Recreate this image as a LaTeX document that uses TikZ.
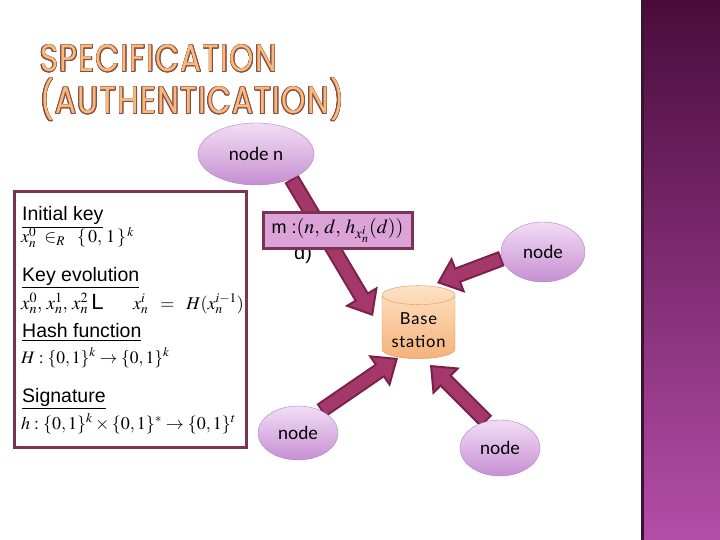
\documentclass[tikz,border=0pt]{standalone}
\usepackage{mathptmx}
\usepackage[no-math]{fontspec}
\setmainfont{Liberation Sans}
\newfontfamily\nodefont{Lato}
\newfontfamily\stationfont[LetterSpace=5]{Lato}
\newfontfamily\titlefont[LetterSpace=4]{Poppins}
\usepackage[copies]{contour}
\contourlength{0.8pt}
\usetikzlibrary{shapes.geometric,arrows.meta,backgrounds}

\definecolor{titlefill}{HTML}{F5BA80}
\definecolor{titleedge}{HTML}{8C4B3B}
\definecolor{peeredge}{HTML}{A987BC}
\definecolor{peertop}{HTML}{F3DDF6}
\definecolor{peerbot}{HTML}{C68FD2}
\definecolor{stationedge}{HTML}{D99A66}
\definecolor{stationtop}{HTML}{FEE2C4}
\definecolor{stationbot}{HTML}{F5B27A}
\definecolor{arrowfill}{HTML}{A4386A}
\definecolor{arrowedge}{HTML}{7A2049}
\definecolor{msgfill}{HTML}{DBA3D8}
\definecolor{boxedge}{HTML}{7B3454}
\definecolor{bartop}{HTML}{4A0C3C}
\definecolor{barbot}{HTML}{B44DA8}
\definecolor{baredge}{HTML}{3A1232}

\tikzset{
  peer/.style={ellipse, draw=peeredge, top color=peertop, bottom color=peerbot,
    font=\nodefont\fontsize{18}{20}\selectfont, inner sep=0pt},
  stationtext/.style={align=center, inner sep=0pt, font=\stationfont\fontsize{16.5}{23}\selectfont},
  heading/.style={anchor=base west, inner sep=0pt, font=\fontsize{19.5}{22}\selectfont},
  formula/.style={anchor=base west, inner sep=0pt, font=\fontsize{18}{20}\selectfont},
  blockout/.style={line width=16, draw=arrowedge,
    -{Triangle[width=38pt,length=23pt,fill=arrowfill,line width=2pt]}},
  blockin/.style={line width=12, draw=arrowfill, shorten <=2pt, shorten >=20pt},
}

\begin{document}
\begin{tikzpicture}[x=1pt,y=-1pt]
  \useasboundingbox (0,0) rectangle (720,540);
  % title
  \node[anchor=base west, inner sep=0pt, xscale=0.815,
    font=\titlefont\fontsize{38}{40}\selectfont] (title1) at (40,72)
    {\contour{titleedge}{\textcolor{titlefill}{SPECIFICATION}}};
  \node[anchor=base west, inner sep=0pt, xscale=0.815,
    font=\titlefont\fontsize{38}{40}\selectfont] (title2) at (40,114)
    {\contour{titleedge}{\textcolor{titlefill}{(AUTHENTICATION)}}};
  % side bar
  \shade[top color=bartop, bottom color=barbot] (643,0) rectangle (720,540);
  \fill[baredge] (641,0) rectangle (644,540);
  % key box
  \node[draw=boxedge, line width=3pt, fill=white, anchor=north west,
    minimum width=232, minimum height=256, inner sep=0pt] (specbox) at (13,190) {};
  \node[heading] (hinit) at (22,221) {\underline{Initial key}};
  \node[formula] (finit) at (21,243) {$x_n^0\;\in_R\;\;\{\,0,\,1\,\}^{\,k}$};
  \node[heading] (hevol) at (22,281) {\underline{Key evolution}};
  \node[formula, font=\fontsize{19}{21}\selectfont] (fevol) at (21,309)
    {$x_n^0,\,x_n^1,\,x_n^2$\,{\fontsize{22}{22}\selectfont L}\quad\;
    {\fontsize{18}{20}\selectfont$x_n^i \;\;=\;\; H(x_n^{i-1})$}};
  \node[heading] (hhash) at (22,337) {\underline{Hash function}};
  \node[formula, font=\fontsize{17.5}{19}\selectfont] (fhash) at (21,363) {$H:\{0,1\}^k \to \{0,1\}^k$};
  \node[heading] (hsig) at (22,402) {\underline{Signature}};
  \node[formula] (fsig) at (21,429)
    {$h:\{0,1\}^k \times \{0,1\}^* \to \{0,1\}^t$};
  % nodes
  \node[peer, minimum width=116, minimum height=62] (nn) at (256,154) {node n};
  \node[peer, minimum width=84, minimum height=60] (re) at (543,252) {node};
  \node[peer, minimum width=80, minimum height=54] (bl) at (298,433) {node};
  \node[peer, minimum width=80, minimum height=56] (br) at (500,448) {node};
  \node[cylinder, shape border rotate=90, aspect=0.35, draw=stationedge,
    top color=stationtop, bottom color=stationbot, minimum width=73, minimum height=73,
    stationtext] (bs) at (418.5,327) {\phantom{Base}\\\phantom{station}};
  \node[stationtext] (bslabel) at ([yshift=-3.5pt]bs.center) {Base\\station};
  % message
  \node[anchor=base west, inner sep=0pt, font=\fontsize{20}{22}\selectfont] (spill) at (294,259) {d)};
  \node[draw=boxedge, line width=3pt, fill=msgfill, minimum width=149, minimum height=35,
    inner sep=0pt] (msg) at (337.5,230.5)
    {{\fontsize{18}{20}\selectfont m :}{\fontsize{20}{22}\selectfont$(n,\,d,\,h_{x_n^i}(d))$}};
  % arrow tips
  \coordinate (tipa) at (373,316);
  \coordinate (tipb) at (437,283);
  \coordinate (tipc) at (398,358);
  \coordinate (tipd) at (430,365);
  \begin{scope}[on background layer]
    \fill[white] (0,0) rectangle (720,540);
    \foreach \src/\dst in {nn.-35/tipa, re.189/tipb, bl.44/tipc, br.117/tipd} {
      \draw[blockout] (\src) -- (\dst);
      \draw[blockin] (\src) -- (\dst);
    }
  \end{scope}
\end{tikzpicture}
\end{document}
